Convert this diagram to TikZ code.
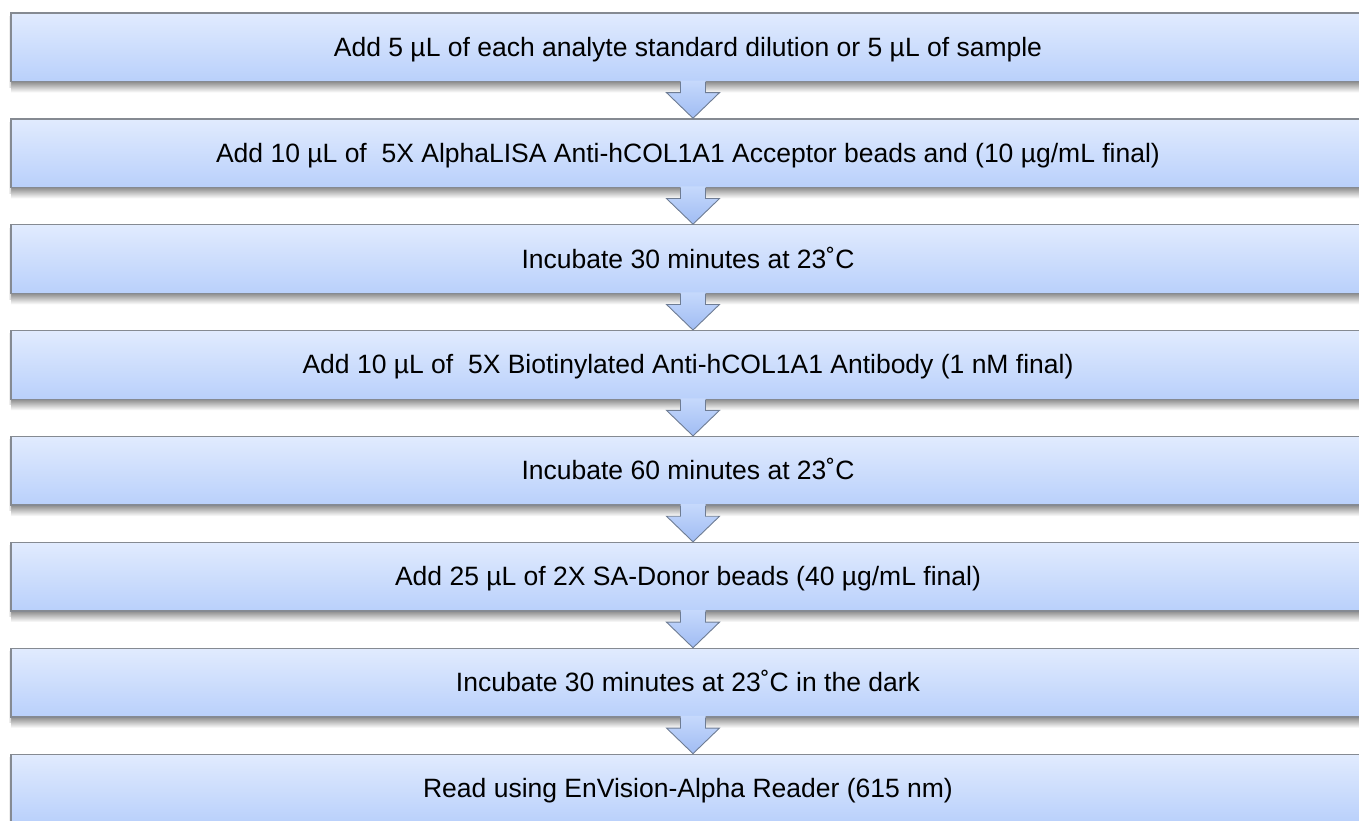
\documentclass[tikz,border=0pt]{standalone}
\usepackage{fontspec}
\setmainfont{Liberation Sans}
\usetikzlibrary{calc}
\definecolor{boxtop}{HTML}{E1EBFE}
\definecolor{boxbot}{HTML}{B9D0FB}
\definecolor{boxline}{HTML}{858A92}
\definecolor{arrtop}{HTML}{C6D9FC}
\definecolor{arrbot}{HTML}{A0BCF3}
\definecolor{arrline}{HTML}{6E7C93}
\tikzset{
  stepbox/.style={rectangle, minimum width=1364pt, minimum height=68.5pt, inner sep=0pt,
    draw=boxline, line width=1.3pt, top color=boxtop, bottom color=boxbot},
  steptext/.style={inner sep=0pt, text height=19pt, text depth=0pt,
    font=\fontsize{26.5}{31}\selectfont},
  arrowbody/.style={top color=arrtop, bottom color=arrbot},
  arrowedge/.style={draw=arrline, line width=0.9pt, line join=miter},
  boxshade/.style={top color=black!45, bottom color=white},
  sideshade/.style={left color=white, right color=black!20},
}
\newcommand{\flowarrow}[2]{%
  \path[arrowbody] ($(#1.south)+(-12.5,-1.6)$) -- ($(#1.south)+(-12.5,10.5)$) -- ($(#1.south)+(-26.5,10.5)$) -- (#2.north) -- ($(#1.south)+(26.5,10.5)$) -- ($(#1.south)+(12.5,10.5)$) -- ($(#1.south)+(12.5,-1.6)$) -- cycle;
  \draw[arrowedge] ($(#1.south)+(-12.5,0)$) -- ($(#1.south)+(-12.5,10.5)$) -- ($(#1.south)+(-26.5,10.5)$) -- (#2.north) -- ($(#1.south)+(26.5,10.5)$) -- ($(#1.south)+(12.5,10.5)$) -- ($(#1.south)+(12.5,0)$);
}
\begin{document}
\begin{tikzpicture}[x=1pt, y=-1pt]
\useasboundingbox (0,0) rectangle (1359,821);
\begin{scope}
\clip (0,0) rectangle (1359,821);
% shadows
\foreach \y in {47.25, 153.15, 259.05, 364.95, 470.85, 576.75, 682.65, 788.55} {
  \shade[boxshade] (11,\y+34.25) rectangle (1380,\y+45.25);
  \shade[sideshade] (8,\y-31) rectangle (11,\y+40);
}
% boxes
\node[stepbox] (b1) at (693, 47.25) {};
\node[stepbox] (b2) at (693,153.15) {};
\node[stepbox] (b3) at (693,259.05) {};
\node[stepbox] (b4) at (693,364.95) {};
\node[stepbox] (b5) at (693,470.85) {};
\node[stepbox] (b6) at (693,576.75) {};
\node[stepbox] (b7) at (693,682.65) {};
\node[stepbox] (b8) at (693,788.55) {};
% texts
\node[steptext] (t1) at (688, 46.75) {Add 5 µL of each analyte standard dilution or 5 µL of sample};
\node[steptext] (t2) at (688,152.65) {Add 10 µL of~ 5X AlphaLISA Anti-hCOL1A1 Acceptor beads and (10 µg/mL final)};
\node[steptext] (t3) at (688,258.55) {Incubate 30 minutes at 23˚C};
\node[steptext] (t4) at (688,364.45) {Add 10 µL of~ 5X Biotinylated Anti-hCOL1A1 Antibody (1 nM final)};
\node[steptext] (t5) at (688,470.35) {Incubate 60 minutes at 23˚C};
\node[steptext] (t6) at (688,576.25) {Add 25 µL of 2X SA-Donor beads (40 µg/mL final)};
\node[steptext] (t7) at (688,682.15) {Incubate 30 minutes at 23˚C in the dark};
\node[steptext] (t8) at (688,788.05) {Read using EnVision-Alpha Reader (615 nm)};
% arrows
\flowarrow{b1}{b2}
\flowarrow{b2}{b3}
\flowarrow{b3}{b4}
\flowarrow{b4}{b5}
\flowarrow{b5}{b6}
\flowarrow{b6}{b7}
\flowarrow{b7}{b8}
\end{scope}
\end{tikzpicture}
\end{document}
